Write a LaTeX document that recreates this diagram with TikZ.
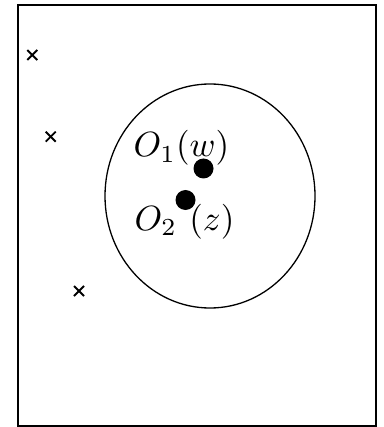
\documentclass[tikz,border=0pt]{standalone}
\usetikzlibrary{calc}
\begin{document}
\begin{tikzpicture}[x=1pt,y=-1pt,
  frame/.style={draw=black,line width=2pt},
  region/.style={draw=black,line width=1.3pt},
  cross/.style={line width=1.9pt},
  dot/.style={circle,fill=black,inner sep=0pt,minimum size=20pt},
  lbl/.style={inner sep=0pt,scale=3.5}]
\useasboundingbox (0,0) rectangle (383,427);
\draw[frame] (17.5,5) rectangle (376,425.5);
\draw[region] (210,196) ellipse [x radius=105, y radius=112];
\node[lbl,anchor=base west] (t1) at (133,157) {$O_1(w)$};
\node[lbl,anchor=base west] (t2) at (134,230) {$O_2\hspace{3.5pt}(z)$};
\node[dot] (o1) at (203.5,168.5) {};
\node[dot] (o2) at (185.5,200) {};
\foreach \n/\cx/\cy in {c1/32.3/55, c2/50.7/136.7, c3/79/291} {
  \coordinate (\n) at (\cx,\cy);
  \draw[cross] ($(\n)+(-5,-5)$) -- ($(\n)+(5,5)$);
  \draw[cross] ($(\n)+(-5,5)$) -- ($(\n)+(5,-5)$);
}
\end{tikzpicture}
\end{document}
